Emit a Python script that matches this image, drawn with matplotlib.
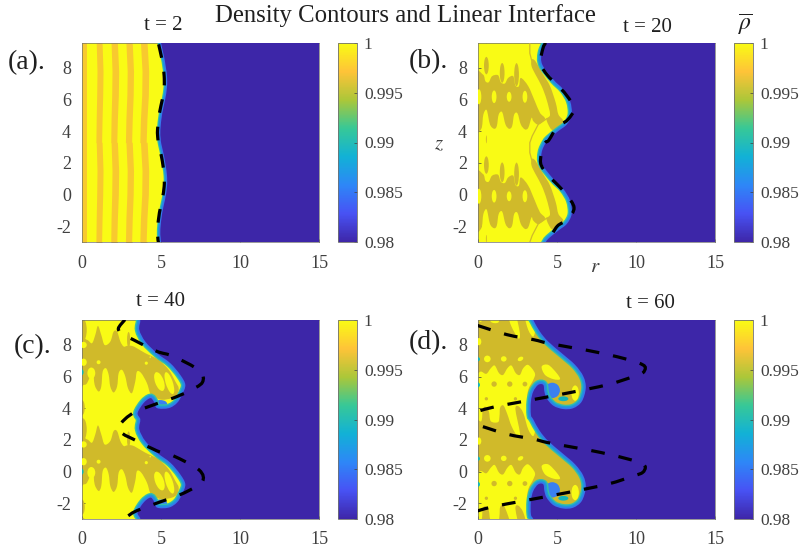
import numpy as np
import matplotlib
matplotlib.use('Agg')
import matplotlib.pyplot as plt
from matplotlib.colors import LinearSegmentedColormap, Normalize
from matplotlib.cm import ScalarMappable
from matplotlib.patches import PathPatch, Ellipse
from matplotlib.path import Path

plt.rcParams['font.family'] = ['Liberation Serif', 'DejaVu Serif']
plt.rcParams['mathtext.fontset'] = 'stix'
plt.rcParams['axes.unicode_minus'] = False

PERIOD = 6.283
W, H = 800, 554
YELLOW = '#F9FB15'
GOLD = '#D0BA2A'
PALE_GOLD = '#F8C92F'
DARK = '#3D26A8'
BLUE = '#3A80F0'
TEAL = '#14B5B8'
TXT = '#404040'

parula = [(.2422, .1504, .6603), (.2810, .3228, .9579), (.1786, .5289, .9682), (.0689, .6948, .8394),
          (.2161, .7843, .5923), (.6720, .7793, .2227), (.9970, .7659, .2199), (.9769, .9839, .0805)]
cbar_ticks = [0.98, 0.985, 0.99, 0.995, 1]
cbar_labels = ['0.98', '0.985', '0.99', '0.995', '1']
r_ticks = [0, 5, 10, 15]
z_ticks = [-2, 0, 2, 4, 6, 8]

# ---- one period of each curve, (r, z)
a_dash_z = [3.2, 2.4, 1.8, 1.2, 0.5, -0.3, -1.15, -2.2, -2.75]
a_dash_r = [4.85, 5.03, 5.13, 5.2, 5.2, 5.08, 4.9, 4.78, 4.8]
a_front_r = [5.02, 5.2, 5.3, 5.38, 5.38, 5.26, 5.08, 4.96, 4.98]
a_front_z = a_dash_z
a_knots = [-3.0, -1.5, 0.0, 1.5, 3.3]
a_stripe_left = [[-0.2] * 5,
                 [0.88, 0.9, 0.93, 0.95, 0.9],
                 [1.82, 1.84, 1.88, 1.9, 1.84],
                 [2.75, 2.78, 2.84, 2.86, 2.78],
                 [3.66, 3.7, 3.78, 3.8, 3.7]]
a_stripe_right = [[0.34] * 5,
                  [1.24, 1.27, 1.31, 1.33, 1.27],
                  [2.2, 2.24, 2.3, 2.32, 2.24],
                  [3.14, 3.18, 3.24, 3.26, 3.18],
                  [4.06, 4.11, 4.2, 4.22, 4.12]]

b_dash_r = [4.28, 4.11, 3.96, 4.39, 5.02, 5.59, 6.08, 5.66, 5.02, 4.49]
b_dash_z = [3.3, 2.95, 2.0, 1.26, 0.63, 0.0, -0.84, -1.58, -2.0, -2.84]
b_front_r = [4.3, 4.03, 4.07, 4.77, 5.4, 5.83, 5.93, 5.62, 5.08, 4.56]
b_front_z = [3.29, 2.66, 1.92, .98, .35, -.39, -1.23, -1.86, -2.28, -2.7]
b_gold_r = [-.21, .32, .47, .68, .89, 1.27, 1.44, 1.7, 1.91, 2.23, 2.37, 2.59, 2.71, 3.18, 3.6, 3.92, 4.24, 3.81,
            3.5, 3.39, 3.18, 2.97, 2.71, 2.5, 2.29, 2.16, 1.97, 1.74, 1.53, 1.31, 1.19, 1.02, .76, .55, .34, .21, -.21]
b_gold_z = [1.29, 1.29, .87, .81, 1.19, 1.25, .81, .73, 1.08, 1.19, .6, .56, 1.08, .56, -.39, -1.12, -1.5, -1.86,
            -1.65, -1.44, -2.07, -2.17, -1.86, -1.16, -1.23, -1.96, -2.13, -1.86, -1.08, -1.23, -1.96, -2.13, -1.86,
            -.95, -1.23, -2.13, -2.13]
b_strip_r = [3.39, 3.64, 4.13, 4.56, 4.92, 5.09, 5.4, 5.09, 4.7, 4.45, 4.34, 4.56, 4.34, 4.03, 3.64, 3.39]
b_strip_z = [2.24, 2.13, 1.29, .56, -.49, -1.23, -1.65, -2.07, -2.21, -1.86, -1.5, -1.23, -.28, .56, 1.29, 1.82]
b_line_r = [4.34, 3.81, 3.43, 3.28, 3.28, 3.39]
b_line_z = [-1.5, -1.86, -2.59, -3.01, -3.64, -4.07]
# ellipses: r, z, width, height, optional tilt
b_gold_dots = [(.53, 1.86, .3, 1.1), (1.53, 1.4, .3, 1.25), (2.44, 1.29, .3, 1.45), (.53, -2.8, .06, .5)]
b_yellow_dots = [(.06, -.11, .3, .95), (1.02, -.11, .3, .8), (1.97, -.11, .3, .63), (2.97, -.11, .3, .76)]

c_dash_r = [2.72, 2.30, 2.62, 3.25, 4.73, 5.78, 7.41, 7.62, 6.73, 5.78, 5.15, 3.46]
c_dash_z = [3.31, 2.74, 2.36, 2.04, 1.31, .99, .1, -.65, -1.22, -1.64, -1.85, -2.48]
c_front_r = [3.69, 3.63, 4.01, 4.75, 5.59, 6.22, 6.54, 6.33, 6.01, 5.49, 4.75, 4.54, 4.32, 3.9, 3.52]
c_front_z = [3.29, 2.66, 1.92, 1.19, .56, -.18, -.81, -1.44, -1.96, -2.28, -2.28, -1.86, -1.65, -1.96, -2.59]
c_gold_r = [-.21, .32, .63, .84, 1.01, 1.22, 1.43, 1.79, 2.0, 2.22, 2.43, 2.64, 2.85, 3.16, 3.48, 4.01, 4.85, 5.49,
            5.91, 6.12, 6.01, 5.69, 5.06, 4.54, 4.32, 4.11, 3.75, 3.48, 3.37, 3.16, 2.91, 2.74, 2.53, 2.32, 2.22, 2.0,
            1.79, 1.69, 1.52, 1.31, 1.22, 1.05, .8, .68, .32, .11, -.21]
c_gold_z = [2.03, 2.03, 1.82, 2.34, 2.91, 2.34, 1.71, 1.92, 2.55, 2.55, 1.92, 1.61, 1.65, 1.65, 1.5, 1.19, .77, .14,
            -.6, -1.02, -1.44, -1.65, -1.75, -1.58, -1.37, -.7, -.07, .03, -.6, -1.33, -1.02, -.28, .14, -.07, -.91,
            -1.29, -.91, -.18, .24, .03, -.91, -1.23, -.81, .03, -.7, -.81, -.81]
c_gold_dots = [(0, -2.25, .35, .95), (.05, 2.66, .5, 1.4), (2.95, 2.03, .2, 1.0)]
c_yellow_dots = [(.1, 1.71, .4, .4), (.1, .62, .4, .46), (1.05, .62, .25, .25), (.59, -.07, .5, .71),
                 (4.07, .56, .2, .2), (4.32, .94, .1, .1), (4.9, -.6, .55, 1.25, 20), (5.53, -.7, .45, 1.45, 18)]
c_teal_dots = [(0, -.01, .2, .35)]
c_blue_dots = [(4.96, -2.0, .85, .46)]

d_dash_r = [-.8, 0, 1.84, 3.54, 4.39, 6.08, 7.78, 9.68, 10.42, 10.59, 10.42, 9.89, 8.2, 5.66, 2.9, 1.0, 0, -.8]
d_dash_z = [3.15, 2.93, 2.36, 2.04, 1.83, 1.52, 1.2, .74, .46, .25, -.06, -.27, -.8, -1.33, -1.85, -2.21, -2.48, -2.7]
d_front_r = [3.5, 3.92, 4.45, 5.3, 6.15, 6.67, 6.82, 6.57, 6.04, 5.4, 4.77, 4.34, 4.2, 4.13, 3.81, 3.5, 3.35, 3.35]
d_front_z = [3.29, 2.55, 1.92, 1.19, .45, -.28, -1.02, -1.86, -2.28, -2.34, -2.13, -1.65, -1.23, -.81, -.81, -1.23,
             -1.86, -2.7]
d_gold_r = [-.21, .21, .3, .47, .68, .81, 1.27, 1.36, 1.4, 1.61, 1.86, 2.12, 2.54, 2.65, 2.37, 2.54, 2.86, 3.18, 3.5,
            3.6, 3.18, 3.28, 3.71, 8.48, 8.48, 4.87, 4.24, 4.13, 3.77, 3.45, 3.28, 3.11, 3.18, 3.5, 3.6, 3.18, 2.86,
            2.65, 2.39, 2.12, 1.86, 1.59, 1.33, 1.06, .81, .53, .21, -.21]
d_gold_z = [3.08, 3.18, 3.92, 4.09, 3.82, 3.18, 3.12, 3.5, 4.03, 4.17, 3.61, 2.87, 2.13, 2.45, 3.92, 4.13, 3.71, 2.66,
            2.24, 2.87, 3.71, 4.13, 3.92, 1.19, -3.01, -2.21, -1.54, -.7, -.7, -1.08, -1.75, -1.86, -1.12, -.49, -.07,
            .45, .24, -.18, -.07, .41, .24, -.18, -.07, .41, .24, -.11, .03, .14]
d_yellow_r = [4.03, 4.45, 4.98, 5.19, 4.77, 4.24]
d_yellow_z = [.35, .45, -.07, -.45, -.45, -.18]
d_yellow_dots = [(.59, .83, .42, .42), (1.63, .83, .36, .34), (2.69, .83, .38, .25, 30), (.06, 1.92, .3, .46),
                 (6.15, -1.33, .47, .97)]
d_gold_spots = [(1.02, -.76, .34, .34), (2.01, -.76, .34, .34), (2.97, -.76, .3, .3), (.53, -1.69, .21, .21),
                (2.37, -1.69, .21, .21)]
d_teal_dots = [(0, .81, .25, .25), (0, -.81, .25, .3), (5.4, -1.69, .64, .3)]
d_blue_dots = [(4.7, -1.16, .97, .97)]


def smooth_path(r, z, closed=False):
    # Catmull-Rom through the points
    pts = np.column_stack([r, z])
    n = len(pts)
    verts = [pts[0]]
    codes = [Path.MOVETO]
    for i in range(n if closed else n - 1):
        if closed:
            p0, p1, p2, p3 = pts[i - 1], pts[i], pts[(i + 1) % n], pts[(i + 2) % n]
        else:
            p0, p1, p2, p3 = pts[max(i - 1, 0)], pts[i], pts[i + 1], pts[min(i + 2, n - 1)]
        verts += [p1 + (p2 - p0) / 6, p2 - (p3 - p1) / 6, p2]
        codes += [Path.CURVE4] * 3
    return Path(verts, codes)


def repeated(r, z, shifts=(2, 1, 0, -1)):
    # curve given from top to bottom over one period, laid out over the whole axis
    rr, zz = [], []
    for k in shifts:
        rr += list(r)
        zz += [v + k * PERIOD for v in z]
    return rr, zz


def blob(ax, r, z, color, zorder):
    for k in [-1, 0, 1, 2]:
        zs = [v + k * PERIOD for v in z]
        ax.add_patch(PathPatch(smooth_path(r, zs, closed=True), fc=color, ec='none', zorder=zorder))


def dots(ax, items, color, zorder):
    for k in [-1, 0, 1, 2]:
        for r, z, w, h, *tilt in items:
            ax.add_patch(Ellipse((r, z + k * PERIOD), w, h, angle=tilt[0] if tilt else 0,
                                 fc=color, ec='none', zorder=zorder))


def front(ax, r, z, widths):
    rr, zz = repeated(r, z)
    edge = smooth_path(rr, zz)
    for lw, col in zip(widths, ['#35BFA8', '#1E9ADA', '#3578EC']):
        ax.add_patch(PathPatch(edge, fill=False, ec=col, lw=lw, zorder=5))
    ax.add_patch(PathPatch(smooth_path(rr + [30, 30], zz + [zz[-1], zz[0]]),
                           fc=DARK, ec='none', zorder=6))


def dash(ax, r, z, phase=0):
    rr, zz = repeated(r, z, (1, 0, -1))
    ax.add_patch(PathPatch(smooth_path(rr, zz), fill=False, ec='black', lw=2.3, zorder=7, capstyle='butt',
                           linestyle=(phase, (4.3, 4.4))))


def px_axes(fig, x0, x1, y0, y1):
    return fig.add_axes([x0 / W, 1 - y1 / H, (x1 - x0) / W, (y1 - y0) / H])


def panel(fig, x0, y0):
    x1, y1 = x0 + 237, y0 + 199
    ax = px_axes(fig, x0, x1, y0, y1)
    ax.set_facecolor(YELLOW)
    ax.set_xlim(0, 15)
    ax.set_ylim(-3.0, 9.57)
    ax.set_xticks(r_ticks)
    ax.set_yticks(z_ticks)
    ax.tick_params(direction='in', length=2, width=.5, color=TXT, labelcolor=TXT, labelsize=13)
    ax.tick_params(axis='x', pad=9)
    ax.tick_params(axis='y', pad=8)
    for s in ax.spines.values():
        s.set_linewidth(.5)
        s.set_color('#707070')
    cax = px_axes(fig, x0 + 256, x0 + 275, y0, y1)
    cb = fig.colorbar(ScalarMappable(Normalize(0.98, 1), cmap), cax=cax, ticks=cbar_ticks)
    cb.ax.set_yticklabels(cbar_labels)
    cb.ax.tick_params(direction='in', length=2, width=.5, color=TXT, labelcolor=TXT, labelsize=12.5, pad=5)
    cb.outline.set_linewidth(.6)
    cb.outline.set_edgecolor('#707070')
    return ax


def label(fig, x, y, s, size=13, **kw):
    fig.text(x / W, 1 - y / H, s, ha='center', va='center', fontsize=size, **kw)


cmap = LinearSegmentedColormap.from_list('parula', parula)
fig = plt.figure(figsize=(W / 100, H / 100), dpi=100)

# (a)
ax = panel(fig, 82, 43)
for left, right in zip(a_stripe_left, a_stripe_right):
    for k in [-1, 0, 1, 2]:
        ax.fill_betweenx([v + k * PERIOD for v in a_knots], left, right, color=PALE_GOLD, lw=0, zorder=2)
front(ax, a_front_r, a_front_z, [5, 3.5, 1.8])
dash(ax, a_dash_r, a_dash_z)

# (b)
ax = panel(fig, 478, 43)
blob(ax, b_gold_r, b_gold_z, GOLD, 2)
blob(ax, b_strip_r, b_strip_z, GOLD, 2)
dots(ax, b_gold_dots, GOLD, 2)
dots(ax, b_yellow_dots, YELLOW, 3)
for k in [-1, 0, 1, 2]:
    ax.plot(b_line_r, [v + k * PERIOD for v in b_line_z], color=GOLD, lw=.9, zorder=3)
front(ax, b_front_r, b_front_z, [6, 4.2, 2])
dash(ax, b_dash_r, b_dash_z)

# (c)
ax = panel(fig, 82, 320)
blob(ax, c_gold_r, c_gold_z, GOLD, 2)
dots(ax, c_gold_dots, GOLD, 2)
dots(ax, c_yellow_dots, YELLOW, 3)
dots(ax, c_teal_dots, TEAL, 4)
dots(ax, c_blue_dots, BLUE, 4)
front(ax, c_front_r, c_front_z, [6.5, 4.5, 2.2])
dash(ax, c_dash_r, c_dash_z)

# (d)
ax = panel(fig, 478, 320)
blob(ax, d_gold_r, d_gold_z, GOLD, 2)
blob(ax, d_yellow_r, d_yellow_z, YELLOW, 3)
dots(ax, d_yellow_dots, YELLOW, 3)
dots(ax, d_gold_spots, GOLD, 3)
dots(ax, d_blue_dots, BLUE, 4)
dots(ax, d_teal_dots, TEAL, 4)
front(ax, d_front_r, d_front_z, [6.5, 4.5, 2.2])
dash(ax, d_dash_r, d_dash_z, 4.75)

label(fig, 405, 16, 'Density Contours and Linear Interface', 17.8, color='#202020')
label(fig, 163, 26, 't = 2', 15, color='#202020')
label(fig, 647, 28, 't = 20', 15, color='#202020')
label(fig, 161, 302, 't = 40', 15, color='#202020')
label(fig, 650, 304, 't = 60', 15, color='#202020')
label(fig, 27, 63, '(a).', 20, color='#202020')
label(fig, 428, 62, '(b).', 20, color='#202020')
label(fig, 33, 347, '(c).', 20, color='#202020')
label(fig, 428, 343, '(d).', 20, color='#202020')
label(fig, 439, 145, r'$z$', 15, color=TXT)
label(fig, 595, 268, r'$r$', 15, color=TXT)
label(fig, 745, 24, r'$\overline{\rho}$', 17, color='#202020')

fig.savefig('out.png', dpi=100)
